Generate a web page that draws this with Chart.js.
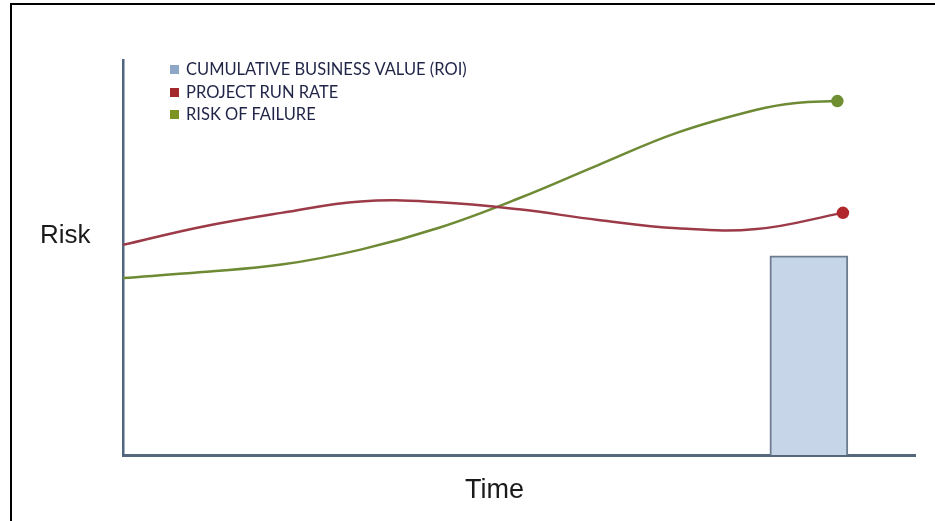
<!DOCTYPE html>
<html>
<head>
<meta charset="utf-8">
<script src="https://cdn.jsdelivr.net/npm/chart.js@4.4.1/dist/chart.umd.min.js"></script>
<style>
  html, body { margin: 0; padding: 0; background: #fff; }
  #wrap { position: relative; width: 935px; height: 521px; overflow: hidden; }
  #frame { position: absolute; left: 10px; top: 3px; width: 940px; height: 530px;
           border-left: 2px solid #000; border-top: 2px solid #000; pointer-events: none; }
  #legend { position: absolute; left: 170px; top: 58px; font-family: Lato, "Open Sans", sans-serif;
            font-size: 16.5px; color: #1f2447; line-height: 22.5px; }
  #legend span.box { display: inline-block; width: 9px; height: 9px; margin-right: 7px; vertical-align: 1px; }
  .axisTitle { position: absolute; font-family: "Liberation Sans", Arial, sans-serif; color: #1a1a1a; }
  #yTitle { left: 40px; top: 219px; font-size: 26px; }
  #xTitle { left: 465px; top: 474px; font-size: 27px; }
</style>
</head>
<body>
<div id="wrap">
  <canvas id="chart"></canvas>
  <div id="frame"></div>
  <div id="legend"></div>
  <div class="axisTitle" id="yTitle"></div>
  <div class="axisTitle" id="xTitle"></div>
</div>
<script>
// values (x = time 0..100, y = risk 0..100)
const seriesNames = ['CUMULATIVE BUSINESS VALUE (ROI)', 'PROJECT RUN RATE', 'RISK OF FAILURE'];
const legendColors = ['#8ea7c6', '#a3282c', '#7b9322'];
const yAxisTitle = 'Risk';
const xAxisTitle = 'Time';

const roiX = [86.6];
const roiY = [50.4];

const runRateX = [0, 10, 20, 30, 40, 50, 60, 70, 80, 90.9];
const runRateY = [53.2, 57.8, 61.3, 64.2, 64.0, 62.2, 59.5, 57.4, 57.2, 61.3];

const riskX = [0, 10, 20, 30, 40, 50, 60, 70, 80, 85, 90.2];
const riskY = [44.8, 46.3, 48.2, 52.0, 57.6, 65.0, 73.4, 81.6, 87.4, 89.1, 89.6];

function toPoints(xs, ys) {
  return xs.map((x, i) => ({ x: x, y: ys[i] }));
}

// only the last point of each line gets a dot
function endDot(r) {
  return ctx => (ctx.dataIndex === ctx.dataset.data.length - 1 ? r : 0);
}

const chart = new Chart(document.getElementById('chart'), {
  type: 'line',
  data: {
    datasets: [
      {
        type: 'bar',
        label: seriesNames[0],
        data: toPoints(roiX, roiY),
        backgroundColor: '#c6d5e8',
        borderColor: '#6d7d90',
        borderWidth: 2,
        barThickness: 78,
        order: 3
      },
      {
        label: seriesNames[1],
        data: toPoints(runRateX, runRateY),
        borderColor: '#9c3a48',
        borderWidth: 2.5,
        tension: 0.4,
        pointRadius: endDot(5),
        pointBackgroundColor: '#b0282c',
        pointBorderColor: '#b0282c',
        order: 1
      },
      {
        label: seriesNames[2],
        data: toPoints(riskX, riskY),
        borderColor: '#6e8a34',
        borderWidth: 2.5,
        tension: 0.4,
        pointRadius: endDot(5),
        pointBackgroundColor: '#6f8f32',
        pointBorderColor: '#6f8f32',
        order: 2
      }
    ]
  },
  options: {
    responsive: true,
    maintainAspectRatio: false,
    animation: false,
    layout: { padding: { left: 123, right: 20, top: 60, bottom: 66 } },
    plugins: {
      legend: { display: false },
      tooltip: { enabled: false }
    },
    scales: {
      x: {
        type: 'linear',
        min: 0,
        max: 100,
        offset: false,
        grid: { display: false, drawTicks: false },
        ticks: { display: false },
        border: { display: true, color: '#56677d', width: 3 }
      },
      y: {
        min: 0,
        max: 100,
        grid: { display: false, drawTicks: false },
        ticks: { display: false },
        border: { display: true, color: '#4f6580', width: 2.5 }
      }
    }
  }
});

// html legend from the chart's datasets
const legend = document.getElementById('legend');
chart.data.datasets.forEach((ds, i) => {
  const row = document.createElement('div');
  row.innerHTML = '<span class="box" style="background:' + legendColors[i] + '"></span>' + ds.label;
  legend.appendChild(row);
});
document.getElementById('yTitle').textContent = yAxisTitle;
document.getElementById('xTitle').textContent = xAxisTitle;
</script>
</body>
</html>
